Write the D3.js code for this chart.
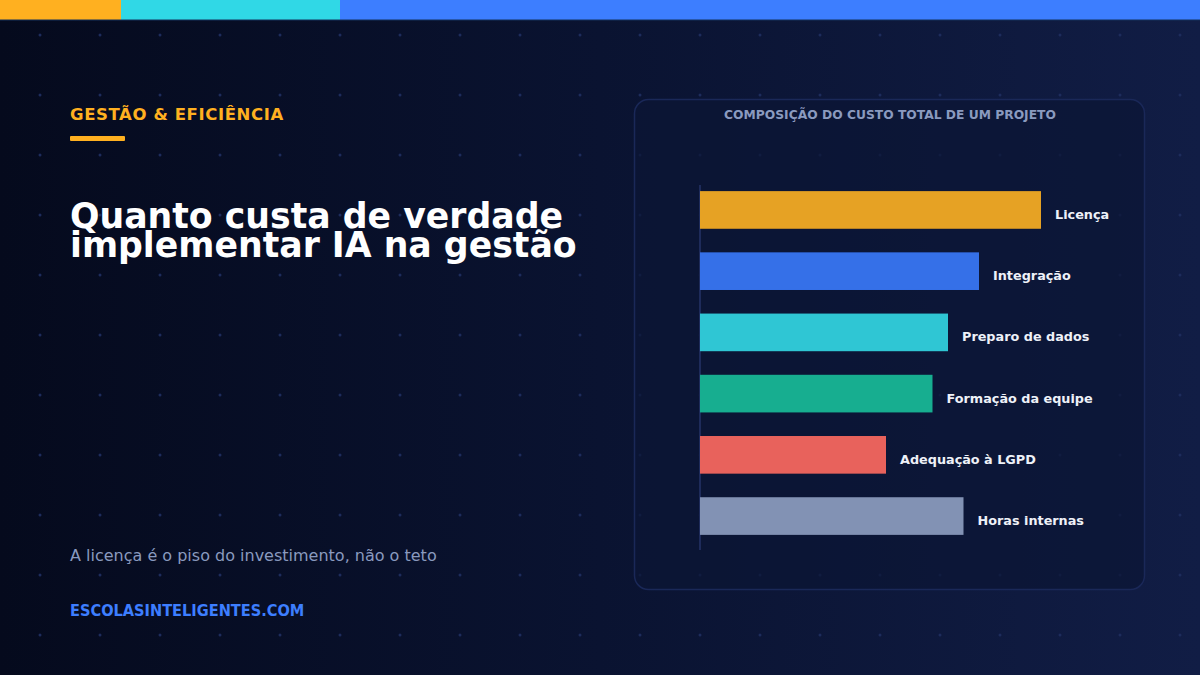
<!DOCTYPE html>
<html>
<head>
<meta charset="utf-8">
<script src="https://cdn.jsdelivr.net/npm/d3@7"></script>
<style>
  html, body { margin: 0; padding: 0; background: #070d22; }
  svg { display: block; font-family: "DejaVu Sans", sans-serif; }
</style>
</head>
<body>
<div id="chart"></div>
<script>
  const categories = ["Licença", "Integração", "Preparo de dados", "Formação da equipe", "Adequação à LGPD", "Horas internas"];
  const shares = [22, 18, 16, 15, 12, 17];
  const barColors = ["#e6a224", "#3570e8", "#2fc6d4", "#17ae90", "#e8625c", "#8292b4"];

  const kicker = "GESTÃO & EFICIÊNCIA";
  const titleLines = ["Quanto custa de verdade", "implementar IA na gestão"];
  const subtitle = "A licença é o piso do investimento, não o teto";
  const site = "ESCOLASINTELIGENTES.COM";
  const chartTitle = "COMPOSIÇÃO DO CUSTO TOTAL DE UM PROJETO";

  const width = 1200
  const height = 675

  const svg = d3.select('#chart').append('svg')
    .attr('width', width)
    .attr('height', height)
    .attr('viewBox', [0, 0, width, height])

  const defs = svg.append('defs')
  const bg = defs.append('linearGradient').attr('id', 'bg').attr('x1', 0).attr('x2', 1).attr('y1', 0).attr('y2', 0)
  bg.append('stop').attr('offset', 0).attr('stop-color', '#050a1d')
  bg.append('stop').attr('offset', 0.5).attr('stop-color', '#0a1331')
  bg.append('stop').attr('offset', 1).attr('stop-color', '#111d45')

  svg.append('rect').attr('width', width).attr('height', height).attr('fill', 'url(#bg)')

  // dot grid
  const dots = []
  for (let x = 40; x < width; x += 60) {
    for (let y = 35; y < height; y += 60) dots.push([x, y])
  }
  svg.append('g').selectAll('circle')
    .data(dots)
    .join('circle')
      .attr('cx', d => d[0])
      .attr('cy', d => d[1])
      .attr('r', 1.5)
      .attr('fill', '#1d2c5c')

  // top colour strip
  svg.append('rect').attr('x', 0).attr('y', 0).attr('width', 121).attr('height', 20).attr('fill', '#ffb020')
  svg.append('rect').attr('x', 121).attr('y', 0).attr('width', 219).attr('height', 20).attr('fill', '#30d8e6')
  svg.append('rect').attr('x', 340).attr('y', 0).attr('width', 860).attr('height', 20).attr('fill', '#3d7eff')
  svg.append('rect').attr('x', 0).attr('y', 19.5).attr('width', width).attr('height', 1).attr('fill', '#14305a')

  // left text block
  svg.append('text')
    .attr('x', 70).attr('y', 120)
    .attr('fill', '#ffb020')
    .attr('font-size', 16.5)
    .attr('font-weight', 'bold')
    .attr('letter-spacing', 0.6)
    .text(kicker)
  svg.append('rect')
    .attr('x', 70).attr('y', 136).attr('width', 55).attr('height', 5).attr('rx', 1)
    .attr('fill', '#ffb020')

  svg.append('g').selectAll('text')
    .data(titleLines)
    .join('text')
      .attr('x', 70)
      .attr('y', (d, i) => 228 + i * 29)
      .attr('fill', '#ffffff')
      .attr('font-size', 34.7)
      .attr('font-weight', 'bold')
      .text(d => d)

  svg.append('text')
    .attr('x', 70).attr('y', 561)
    .attr('fill', '#8a9abf')
    .attr('font-size', 16)
    .text(subtitle)

  svg.append('text')
    .attr('x', 70).attr('y', 616)
    .attr('fill', '#3d7eff')
    .attr('font-size', 16.2)
    .attr('font-family', '"DejaVu Sans Condensed", "DejaVu Sans", sans-serif')
    .attr('font-weight', 'bold')
    .text(site)

  // card
  svg.append('rect')
    .attr('x', 634.5).attr('y', 99.5).attr('width', 510).attr('height', 490).attr('rx', 14)
    .attr('fill', '#0c1535').attr('fill-opacity', 0.7)
    .attr('stroke', '#1a2858').attr('stroke-width', 1.5)

  svg.append('text')
    .attr('x', 890).attr('y', 119)
    .attr('text-anchor', 'middle')
    .attr('fill', '#8a9abf')
    .attr('font-size', 12.3)
    .attr('font-weight', 'bold')
    .text(chartTitle)

  const x = d3.scaleLinear([0, d3.max(shares)], [700, 1041])
  const y = d3.scaleBand(categories, [185, 541]).paddingInner(0.385).paddingOuter(0.1)

  const rows = categories.map((c, i) => ({ name: c, value: shares[i], color: barColors[i] }))

  svg.append('line')
    .attr('x1', 700).attr('x2', 700).attr('y1', 185).attr('y2', 550)
    .attr('stroke', '#1e2b5a').attr('stroke-width', 2)

  svg.append('g').selectAll('rect')
    .data(rows)
    .join('rect')
      .attr('x', x(0))
      .attr('y', d => y(d.name))
      .attr('width', d => x(d.value) - x(0))
      .attr('height', y.bandwidth())
      .attr('fill', d => d.color)

  svg.append('g').selectAll('text')
    .data(rows)
    .join('text')
      .attr('x', d => x(d.value) + 14)
      .attr('y', d => y(d.name) + y.bandwidth() / 2 + 9)
      .attr('fill', '#eef1f8')
      .attr('font-size', 12.8)
      .attr('font-weight', 'bold')
      .text(d => d.name)
</script>
</body>
</html>
